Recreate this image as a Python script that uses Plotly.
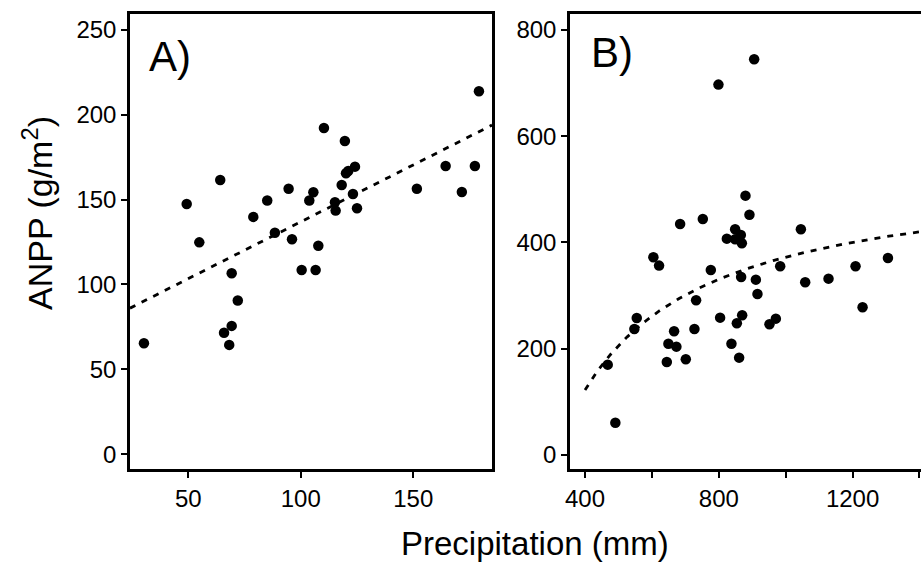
import numpy as np
import plotly.graph_objects as go

# Panel A data (precipitation mm, ANPP g/m2)
precip_a = [179.2, 110.3, 119.6, 124.1, 121.1, 120.1, 164.4, 177.4, 64.2, 94.6,
            105.6, 118.2, 123.2, 151.6, 171.6, 49.3, 85.1, 103.8, 115.2, 115.5,
            125.0, 78.9, 88.5, 96.1, 54.9, 107.8, 69.3, 100.4, 106.6, 72.0,
            69.3, 65.9, 68.2, 30.3]
anpp_a = [213.8, 192.2, 184.5, 169.4, 166.8, 165.5, 169.8, 169.8, 161.5, 156.4,
          154.3, 158.6, 153.3, 156.4, 154.5, 147.4, 149.4, 149.4, 148.4, 143.5,
          144.9, 139.8, 130.5, 126.6, 124.8, 122.8, 106.6, 108.5, 108.5, 90.5,
          75.6, 71.6, 64.4, 65.4]

# Panel B data
precip_b = [905.7, 798.9, 879.7, 891.6, 684.3, 752.2, 1045.4, 848.8, 824.0, 848.8,
            865.9, 868.9, 604.4, 621.4, 776.1, 866.8, 910.8, 915.6, 983.5, 1058.3,
            1128.0, 1208.8, 1305.7, 1229.8, 732.1, 554.7, 547.5, 727.1, 666.3, 649.3,
            673.2, 644.5, 701.3, 803.9, 853.9, 869.8, 837.8, 860.8, 951.5, 970.5,
            467.9, 490.7]
anpp_b = [744.8, 697.1, 488.1, 452.3, 434.8, 444.2, 424.8, 424.8, 407.2, 406.0,
          414.1, 398.4, 372.1, 356.4, 348.2, 335.0, 330.0, 303.0, 355.2, 325.0,
          331.9, 355.2, 370.8, 278.0, 291.2, 257.9, 237.2, 237.2, 232.8, 209.5,
          203.9, 175.1, 180.1, 258.5, 247.9, 263.0, 209.5, 183.2, 246.0, 256.6,
          170.0, 60.8]

# Fitted models
fit_a_intercept, fit_a_slope = 69.9, 0.670      # linear
fit_b_asym, fit_b_k = 539.1, 166690.0            # y = a - k/x

xa_range = [24.1, 185.0]
ya_range = [-8.7, 259.3]
xb_range = [355.1, 1404.5]
yb_range = [-26.4, 830.0]

FONT = "Liberation Sans, Arial, sans-serif"

fig = go.Figure()

fa_x = np.linspace(xa_range[0], xa_range[1], 50)
fig.add_trace(go.Scatter(x=fa_x, y=fit_a_intercept + fit_a_slope * fa_x, mode="lines",
                         line=dict(color="black", width=2.8, dash="6px,7px"),
                         xaxis="x", yaxis="y", showlegend=False, hoverinfo="skip"))
fig.add_trace(go.Scatter(x=precip_a, y=anpp_a, mode="markers",
                         marker=dict(color="black", size=10.5),
                         xaxis="x", yaxis="y", showlegend=False))

fb_x = np.linspace(400, xb_range[1], 200)
fig.add_trace(go.Scatter(x=fb_x, y=fit_b_asym - fit_b_k / fb_x, mode="lines",
                         line=dict(color="black", width=2.8, dash="6px,7px"),
                         xaxis="x2", yaxis="y2", showlegend=False, hoverinfo="skip"))
fig.add_trace(go.Scatter(x=precip_b, y=anpp_b, mode="markers",
                         marker=dict(color="black", size=10.5),
                         xaxis="x2", yaxis="y2", showlegend=False))

W, H = 921, 562
ydom = [1 - 469 / H, 1 - 14 / H]

axis_common = dict(showgrid=False, zeroline=False, showline=True, linecolor="black",
                   linewidth=2.5, mirror=True, ticks="outside", ticklen=6, tickwidth=2,
                   tickcolor="black", automargin=False,
                   tickfont=dict(family=FONT, size=24, color="black"))

fig.update_layout(
    width=W, height=H, margin=dict(l=0, r=0, t=0, b=0, autoexpand=False),
    paper_bgcolor="white", plot_bgcolor="white",
    font=dict(family=FONT, color="black"),
    xaxis=dict(domain=[130 / W, 492 / W], range=xa_range, tickvals=[50, 100, 150], **axis_common),
    yaxis=dict(domain=ydom, range=ya_range, tickvals=[0, 50, 100, 150, 200, 250], **axis_common),
    xaxis2=dict(domain=[570 / W, 1.0], range=xb_range, anchor="y2",
                tickvals=[400, 600, 800, 1000, 1200, 1400],
                ticktext=["400", "", "800", "", "1200", ""], **axis_common),
    yaxis2=dict(domain=ydom, range=yb_range, anchor="x2",
                tickvals=[0, 200, 400, 600, 800], **axis_common),
    annotations=[
        dict(text="A)", xref="paper", yref="paper", x=147 / W, y=1 - 57 / H,
             xanchor="left", yanchor="middle", showarrow=False,
             font=dict(family=FONT, size=42, color="black")),
        dict(text="B)", xref="paper", yref="paper", x=589 / W, y=1 - 52 / H,
             xanchor="left", yanchor="middle", showarrow=False,
             font=dict(family=FONT, size=42, color="black")),
        dict(text="ANPP (g/m<sup>2</sup>)", xref="paper", yref="paper",
             x=38 / W, y=1 - 213 / H, xanchor="center", yanchor="middle",
             textangle=-90, showarrow=False,
             font=dict(family=FONT, size=34, color="black")),
        dict(text="Precipitation (mm)", xref="paper", yref="paper",
             x=535 / W, y=1 - 543 / H, xanchor="center", yanchor="middle",
             showarrow=False, font=dict(family=FONT, size=33, color="black")),
    ],
)

fig.write_html("out.html", config={"displayModeBar": False},
               post_script="document.body.style.margin='0';document.body.style.overflow='hidden';")
